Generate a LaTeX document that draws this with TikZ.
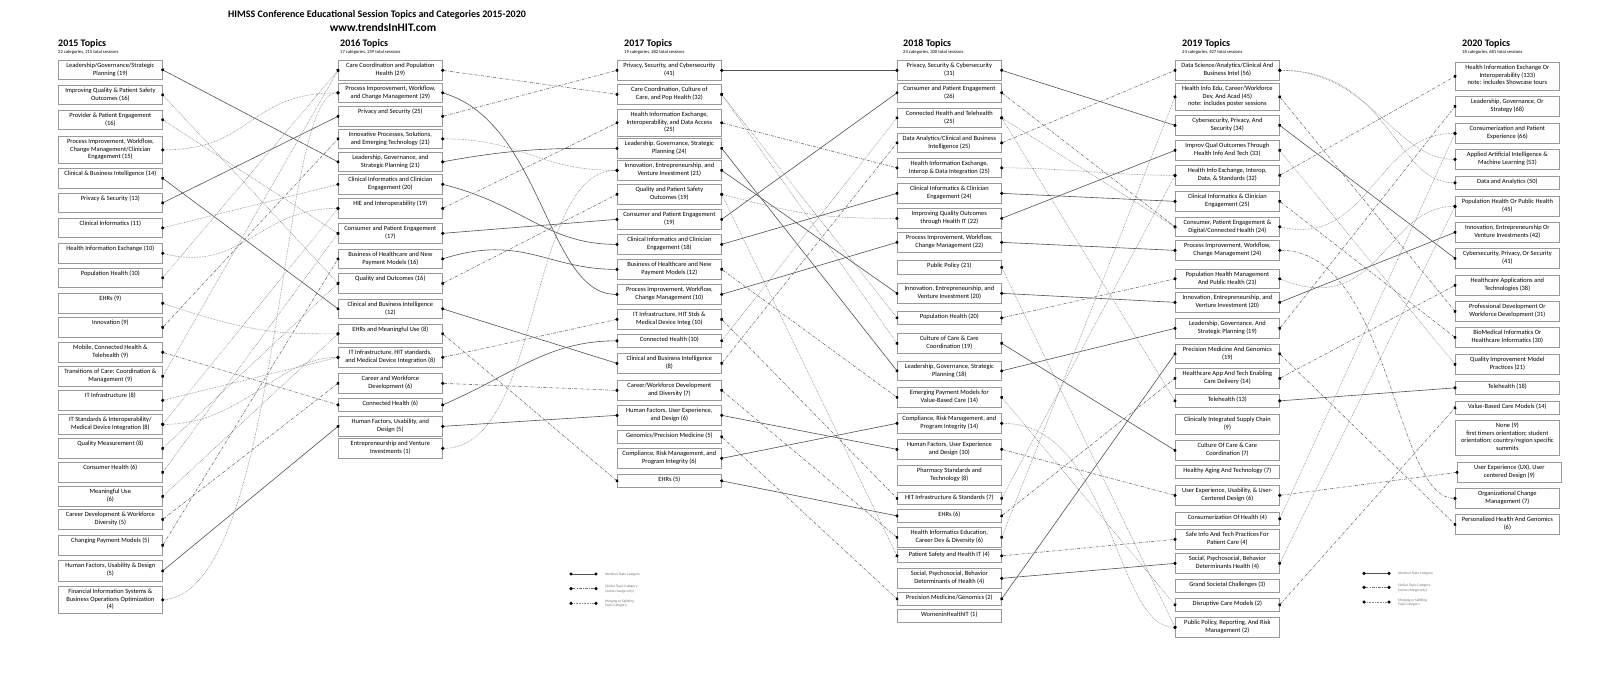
\documentclass[tikz,border=0pt]{standalone}
\usepackage{fontspec}
\setmainfont{Carlito}
\usetikzlibrary{arrows.meta}
\newcommand{\bfnt}{\fontsize{6.45}{7.6}\selectfont}
\newcommand{\tx}[2]{\vbox to \dimexpr#1pt-4pt\relax{\hbox{\begin{tabular}[t]{@{}c@{}}#2\end{tabular}}\vss}}
\begin{document}
\begin{tikzpicture}[x=1pt,y=-1pt,
 tb/.style={draw=black!40, line width=0.7pt, fill=white, anchor=north west, minimum width=104pt, inner xsep=1pt, inner ysep=2pt, font=\bfnt, text=black},
 conn/.style={line width=0.6pt, {Circle[length=3.2pt,color=black]}-{Circle[length=3.2pt,color=black]}, shorten <=-1.6pt, shorten >=-1.6pt},
 idl/.style={conn, draw=black!68},
 siml/.style={conn, draw=black!55, dash pattern=on 3pt off 1.3pt on 0.6pt off 1.3pt},
 mrgl/.style={conn, draw=black!45, dash pattern=on 0.7pt off 0.9pt},
 hdrs/.style={anchor=west, font=\fontsize{10}{11}\selectfont\bfseries, inner sep=0pt},
 subs/.style={anchor=west, font=\fontsize{4.6}{5}\selectfont, inner sep=0pt},
 lgt/.style={anchor=west, align=left, font=\fontsize{3.6}{4.2}\selectfont, text=black!55, inner sep=0pt},
 ttl/.style={font=\fontsize{10}{11}\selectfont\bfseries, inner sep=0pt}
]
\fill[white] (0,0) rectangle (1600,674);
\useasboundingbox (0,0) rectangle (1600,674);

% titles
\node[ttl] (title) at (377,15) {HIMSS Conference Educational Session Topics and Categories 2015-2020};
\node[ttl, font=\fontsize{11.5}{12}\selectfont\bfseries] (url) at (383,27.5) {www.trendsInHIT.com};

% headers
\node[hdrs] (h15) at (58,44) {2015 Topics};
\node[subs] (s15) at (58,52.5) {22 categories, 215 total sessions};
\node[hdrs] (h16) at (340,44) {2016 Topics};
\node[subs] (s16) at (340,52.5) {17 categories, 259 total sessions};
\node[hdrs] (h17) at (624,44) {2017 Topics};
\node[subs] (s17) at (624,52.5) {19 categories, 282 total sessions};
\node[hdrs] (h18) at (903,44) {2018 Topics};
\node[subs] (s18) at (903,52.5) {24 categories, 300 total sessions};
\node[hdrs] (h19) at (1182,44) {2019 Topics};
\node[subs] (s19) at (1182,52.5) {24 categories, 427 total sessions};
\node[hdrs] (h20) at (1462,44) {2020 Topics};
\node[subs] (s20) at (1462,52.5) {18 categories, 681 total sessions};

% 2015
\node[tb] (a1) at (58,60) {\tx{19}{Leadership/Governance/Strategic\\Planning (19)}};
\node[tb] (a2) at (58,85) {\tx{19}{Improving Quality \& Patient Safety\\Outcomes (16)}};
\node[tb] (a3) at (58,110) {\tx{19}{Provider \& Patient Engagement\\(16)}};
\node[tb] (a4) at (58,136) {\tx{27}{Process Improvement, Workflow,\\Change Management/Clinician\\Engagement (15)}};
\node[tb] (a5) at (58,168) {\tx{20}{Clinical \& Business Intelligence (14)}};
\node[tb] (a6) at (58,193) {\tx{19}{Privacy \& Security (13)}};
\node[tb] (a7) at (58,218) {\tx{19}{Clinical Informatics (11)}};
\node[tb] (a8) at (58,243) {\tx{20}{Health Information Exchange (10)}};
\node[tb] (a9) at (58,268) {\tx{19}{Population Health (10)}};
\node[tb] (a10) at (58,293) {\tx{20}{EHRs (9)}};
\node[tb] (a11) at (58,317) {\tx{20}{Innovation (9)}};
\node[tb] (a12) at (58,342) {\tx{20}{Mobile, Connected Health \&\\Telehealth (9)}};
\node[tb] (a13) at (58,366) {\tx{20}{Transitions of Care: Coordination \&\\Management (9)}};
\node[tb] (a14) at (58,390) {\tx{20}{IT Infrastructure (8)}};
\node[tb] (a15) at (58,414) {\tx{20}{IT Standards \& Interoperability/\\Medical Device Integration (8)}};
\node[tb] (a16) at (58,438) {\tx{20}{Quality Measurement (8)}};
\node[tb] (a17) at (58,462) {\tx{20}{Consumer Health (6)}};
\node[tb] (a18) at (58,486) {\tx{20}{Meaningful Use\\(6)}};
\node[tb] (a19) at (58,509) {\tx{20}{Career Development \& Workforce\\Diversity (5)}};
\node[tb] (a20) at (58,535) {\tx{20}{Changing Payment Models (5)}};
\node[tb] (a21) at (58,560) {\tx{21}{Human Factors, Usability \& Design\\(5)}};
\node[tb] (a22) at (58,586) {\tx{27}{Financial Information Systems \&\\Business Operations Optimization\\(4)}};

% 2016
\node[tb] (b1) at (338,60) {\tx{20}{Care Coordination and Population\\Health (29)}};
\node[tb] (b2) at (338,83) {\tx{19}{Process Imporovement, Workflow,\\and Change Management (29)}};
\node[tb] (b3) at (338,106) {\tx{20}{Privacy and Security (25)}};
\node[tb] (b4) at (338,129) {\tx{19}{Innovative Processes, Solutions,\\and Emerging Technology (21)}};
\node[tb] (b5) at (338,152) {\tx{19}{Leadership, Governance, and\\Strategic Planning (21)}};
\node[tb] (b6) at (338,174) {\tx{20}{Clinical Informatics and Clinician\\Engagement (20)}};
\node[tb] (b7) at (338,198) {\tx{20}{HIE and Interoperability (19)}};
\node[tb] (b8) at (338,223) {\tx{20}{Consumer and Patient Engagement\\(17)}};
\node[tb] (b9) at (338,249) {\tx{19}{Business of Healthcare and New\\Payment Models (16)}};
\node[tb] (b10) at (338,273) {\tx{20}{Quality and Outcomes (16)}};
\node[tb] (b11) at (338,299) {\tx{19}{Clinical and Business Intelligence\\(12)}};
\node[tb] (b12) at (338,324) {\tx{19}{EHRs and Meaningful Use (8)}};
\node[tb] (b13) at (338,347) {\tx{20}{IT Infrastructure, HIT standards,\\and Medical Device Integration (8)}};
\node[tb] (b14) at (338,373) {\tx{20}{Career and Workforce\\Development (6)}};
\node[tb] (b15) at (338,398) {\tx{13}{Connected Health (6)}};
\node[tb] (b16) at (338,416) {\tx{20}{Human Factors, Usability, and\\Design (5)}};
\node[tb] (b17) at (338,438) {\tx{20}{Entrepreneurship and Venture\\Investments (1)}};

% 2017
\node[tb] (c1) at (617,60) {\tx{20}{Privacy, Security, and Cybersecurity\\(41)}};
\node[tb] (c2) at (617,84) {\tx{20}{Care Coordination, Culture of\\Care, and Pop Health (32)}};
\node[tb] (c3) at (617,109) {\tx{27}{Health Information Exchange,\\Interoperability, and Data Access\\(25)}};
\node[tb] (c4) at (617,138) {\tx{20}{Leadership, Governance, Strategic\\Planning (24)}};
\node[tb] (c5) at (617,160) {\tx{20}{Innovation, Entrepreneurship, and\\Venture Investment (21)}};
\node[tb] (c6) at (617,184) {\tx{20}{Quality and Patient Safety\\Outcomes (19)}};
\node[tb] (c7) at (617,209) {\tx{20}{Consumer and Patient Engagement\\(19)}};
\node[tb] (c8) at (617,234) {\tx{20}{Clinical Informatics and Clinician\\Engagement (18)}};
\node[tb] (c9) at (617,259) {\tx{20}{Business of Healthcare and New\\Payment Models (12)}};
\node[tb] (c10) at (617,284) {\tx{20}{Process Improvement, Workflow,\\Change Management (10)}};
\node[tb] (c11) at (617,309) {\tx{20}{IT Infrastructure, HIT Stds \&\\Medical Device Integ (10)}};
\node[tb] (c12) at (617,334) {\tx{13}{Connected Health (10)}};
\node[tb] (c13) at (617,353) {\tx{20}{Clinical and Business Intelligence\\(8)}};
\node[tb] (c14) at (617,380) {\tx{20}{Career/Workforce Development\\and Diversity (7)}};
\node[tb] (c15) at (617,405) {\tx{20}{Human Factors, User Experience,\\and Design (6)}};
\node[tb] (c16) at (617,430) {\tx{13}{Genomics/Precision Medicine (5)}};
\node[tb] (c17) at (617,448) {\tx{20}{Compliance, Risk Management, and\\Program Integrity (6)}};
\node[tb] (c18) at (617,474) {\tx{13}{EHRs (5)}};

% 2018
\node[tb] (d1) at (897,60) {\tx{20}{Privacy, Security \& Cybersecurity\\(31)}};
\node[tb] (d2) at (897,83) {\tx{19}{Consumer and Patient Engagement\\(26)}};
\node[tb] (d3) at (897,108) {\tx{19}{Connected Health and Telehealth\\(25)}};
\node[tb] (d4) at (897,133) {\tx{19}{Data Analytics/Clinical and Business\\Intelligence (25)}};
\node[tb] (d5) at (897,158) {\tx{19}{Health Information Exchange,\\Interop \& Data Integration (25)}};
\node[tb] (d6) at (897,183) {\tx{20}{Clinical Informatics \& Clinician\\Engagement (24)}};
\node[tb] (d7) at (897,208) {\tx{20}{Improving Quality Outcomes\\through Health IT (22)}};
\node[tb] (d8) at (897,232) {\tx{20}{Process Improvement, Workflow,\\Change Management (22)}};
\node[tb] (d9) at (897,260) {\tx{14}{Public Policy (21)}};
\node[tb] (d10) at (897,283) {\tx{20}{Innovation, Entrepreneurship, and\\Venture Investment (20)}};
\node[tb] (d11) at (897,311) {\tx{13}{Population Health (20)}};
\node[tb] (d12) at (897,333) {\tx{20}{Culture of Care \& Care\\Coordination (19)}};
\node[tb] (d13) at (897,361) {\tx{19}{Leadership, Governance, Strategic\\Planning (18)}};
\node[tb] (d14) at (897,387) {\tx{20}{Emerging Payment Models for\\Value-Based Care (14)}};
\node[tb] (d15) at (897,413) {\tx{20}{Compliance, Risk Management, and\\Program Integrity (14)}};
\node[tb] (d16) at (897,439) {\tx{20}{Human Factors, User Experience\\and Design (10)}};
\node[tb] (d17) at (897,465) {\tx{20}{Pharmacy Standards and\\Technology (8)}};
\node[tb] (d18) at (897,492) {\tx{12}{HIT Infrastructure \& Standards (7)}};
\node[tb] (d19) at (897,509) {\tx{13}{EHRs (6)}};
\node[tb] (d20) at (897,527) {\tx{20}{Health Informatics Education,\\Career Dev \& Diversity (6)}};
\node[tb] (d21) at (897,549) {\tx{13}{Patient Safety and Health IT (4)}};
\node[tb] (d22) at (897,568) {\tx{20}{Social, Psychosocial, Behavior\\Determinants of Health (4)}};
\node[tb] (d23) at (897,592) {\tx{13}{Precision Medicine/Genomics (2)}};
\node[tb] (d24) at (897,609) {\tx{13}{WomeninHealthIT (1)}};

% 2019
\node[tb] (e1) at (1175,60) {\tx{20}{Data Science/Analytics/Clinical And\\Business Intel (56)}};
\node[tb] (e2) at (1175,83) {\tx{27}{Health Info Edu, Career/Workforce\\Dev, And Acad (45)\\note: includes poster sessions}};
\node[tb] (e3) at (1175,115) {\tx{20}{Cybersecurity, Privacy, And\\Security (34)}};
\node[tb] (e4) at (1175,140) {\tx{20}{Improv Qual Outcomes Through\\Health Info And Tech (33)}};
\node[tb] (e5) at (1175,165) {\tx{20}{Health Info Exchange, Interop,\\Data, \& Standards (32)}};
\node[tb] (e6) at (1175,191) {\tx{20}{Clinical Informatics \& Clinician\\Engagement (25)}};
\node[tb] (e7) at (1175,217) {\tx{19}{Consumer, Patient Engagement \&\\Digital/Connected Health (24)}};
\node[tb] (e8) at (1175,240) {\tx{20}{Process Improvement, Workflow,\\Change Management (24)}};
\node[tb] (e9) at (1175,269) {\tx{19}{Population Health Management\\And Public Health (21)}};
\node[tb] (e10) at (1175,292) {\tx{20}{Innovation, Entrepreneurship, and\\Venture Investment (20)}};
\node[tb] (e11) at (1175,318) {\tx{20}{Leadership, Governance, And\\Strategic Planning (19)}};
\node[tb] (e12) at (1175,344) {\tx{19}{Precision Medicine And Genomics\\(19)}};
\node[tb] (e13) at (1175,368) {\tx{20}{Healthcare App And Tech Enabling\\Care Delivery (14)}};
\node[tb] (e14) at (1175,394) {\tx{13}{Telehealth (13)}};
\node[tb] (e15) at (1175,414) {\tx{20}{Clinically Integrated Supply Chain\\(9)}};
\node[tb] (e16) at (1175,440) {\tx{20}{Culture Of Care \& Care\\Coordination (7)}};
\node[tb] (e17) at (1175,465) {\tx{13}{Healthy Aging And Technology (7)}};
\node[tb] (e18) at (1175,485) {\tx{20}{User Experience, Usability, \& User-\\Centered Design (6)}};
\node[tb] (e19) at (1175,512) {\tx{13}{Consumerization Of Health (4)}};
\node[tb] (e20) at (1175,529) {\tx{20}{Safe Info And Tech Practices For\\Patient Care (4)}};
\node[tb] (e21) at (1175,553) {\tx{20}{Social, Psychosocial, Behavior\\Determinants Health (4)}};
\node[tb] (e22) at (1175,579) {\tx{13}{Grand Societal Challenges (3)}};
\node[tb] (e23) at (1175,598) {\tx{13}{Disruptive Care Models (2)}};
\node[tb] (e24) at (1175,617) {\tx{20}{Public Policy, Reporting, And Risk\\Management (2)}};

% 2020
\node[tb] (f1) at (1455,62) {\tx{28}{Health Information Exchange Or\\Interoperability (133)\\note: includes Showcase tours}};
\node[tb] (f2) at (1455,96) {\tx{20}{Leadership, Governance, Or\\Strategy (68)}};
\node[tb] (f3) at (1455,123) {\tx{20}{Consumerization and Patient\\Experience (66)}};
\node[tb] (f4) at (1455,149) {\tx{20}{Applied Artificial Intelligence \&\\Machine Learning (53)}};
\node[tb] (f5) at (1455,176) {\tx{13}{Data and Analytics (50)}};
\node[tb] (f6) at (1455,196) {\tx{20}{Population Health Or Public Health\\(45)}};
\node[tb] (f7) at (1455,222) {\tx{20}{Innovation, Entrepreneurship Or\\Venture Investments (42)}};
\node[tb] (f8) at (1455,248) {\tx{20}{Cybersecurity, Privacy, Or Security\\(41)}};
\node[tb] (f9) at (1455,275) {\tx{20}{Healthcare Applications and\\Technologies (38)}};
\node[tb] (f10) at (1455,301) {\tx{20}{Professional Development Or\\Workforce Development (31)}};
\node[tb] (f11) at (1455,327) {\tx{20}{BioMedical Informatics Or\\Healthcare Informatics (30)}};
\node[tb] (f12) at (1455,354) {\tx{20}{Quality Improvement Model\\Practices (21)}};
\node[tb] (f13) at (1455,381) {\tx{13}{Telehealth (18)}};
\node[tb] (f14) at (1455,401) {\tx{13}{Value-Based Care Models (14)}};
\node[tb] (f15) at (1455,420) {\tx{35}{None (9)\\first timers orientation; student\\orientation; country/region specific\\summits}};
\node[tb] (f16) at (1457,462) {\tx{20}{User Experience (UX), User\\centered Design (9)}};
\node[tb] (f17) at (1455,488) {\tx{20}{Organizational Change\\Management (7)}};
\node[tb] (f18) at (1455,514) {\tx{20}{Personalized Health And Genomics\\(6)}};

% 2015 -> 2016
\draw[idl] (a1.east) -- (b5.west);
\draw[mrgl] (a2.east) -- (b10.west);
\draw[mrgl] (a3.east) -- (b8.west);
\draw[mrgl] (a4.east) .. controls +(90,0) and +(-90,0) .. (b2.west);
\draw[idl] (a5.east) -- (b11.west);
\draw[idl] (a6.east) -- (b3.west);
\draw[mrgl] (a7.east) -- (b6.west);
\draw[mrgl] (a8.east) .. controls +(80,20) and +(-80,0) .. (b7.west);
\draw[mrgl] (a9.east) -- (b1.west);
\draw[mrgl] (a10.east) .. controls +(90,30) and +(-60,0) .. (b12.west);
\draw[siml] (a11.east) -- (b4.west);
\draw[siml] (a12.east) -- (b15.west);
\draw[mrgl] (a13.east) -- (b1.west);
\draw[mrgl] (a14.east) -- (b13.west);
\draw[mrgl] (a15.east) .. controls +(80,0) and +(-60,0) .. (b13.west);
\draw[mrgl] (a15.east) -- (b7.west);
\draw[mrgl] (a16.east) -- (b10.west);
\draw[mrgl] (a17.east) -- (b8.west);
\draw[mrgl] (a18.east) -- (b12.west);
\draw[siml] (a19.east) -- (b14.west);
\draw[siml] (a20.east) -- (b9.west);
\draw[idl] (a21.east) -- (b16.west);
\draw[mrgl] (a22.east) .. controls +(120,-10) and +(-60,0) .. (b2.west);

% 2016 -> 2017
\draw[siml] (b1.east) -- (c2.west);
\draw[idl] (b2.east) .. controls +(100,30) and +(-70,0) .. (c10.west);
\draw[siml] (b3.east) -- (c1.west);
\draw[mrgl] (b4.east) .. controls +(80,0) and +(-80,0) .. (c5.west);
\draw[idl] (b5.east) .. controls +(80,-15) and +(-50,0) .. (c4.west);
\draw[idl] (b6.east) .. controls +(80,20) and +(-70,0) .. (c8.west);
\draw[siml] (b7.east) -- (c3.west);
\draw[idl] (b8.east) -- (c7.west);
\draw[idl] (b9.east) .. controls +(80,-25) and +(-70,0) .. (c9.west);
\draw[siml] (b10.east) -- (c6.west);
\draw[idl] (b11.east) -- (c13.west);
\draw[siml] (b12.east) -- (c18.west);
\draw[siml] (b13.east) -- (c11.west);
\draw[siml] (b14.east) -- (c14.west);
\draw[idl] (b15.east) .. controls +(70,-30) and +(-70,0) .. (c12.west);
\draw[idl] (b16.east) -- (c15.west);
\draw[mrgl] (b17.east) .. controls +(100,0) and +(-90,0) .. (c5.west);

% 2017 -> 2018
\draw[idl] (c1.east) -- (d1.west);
\draw[mrgl] (c2.east) -- (d12.west);
\draw[mrgl] (c2.east) -- (d11.west);
\draw[siml] (c3.east) -- (d5.west);
\draw[idl] (c4.east) -- (d13.west);
\draw[idl] (c5.east) -- (d10.west);
\draw[mrgl] (c6.east) .. controls +(80,20) and +(-80,0) .. (d7.west);
\draw[mrgl] (c6.east) -- (d21.west);
\draw[idl] (c7.east) -- (d2.west);
\draw[idl] (c8.east) -- (d6.west);
\draw[siml] (c9.east) -- (d14.west);
\draw[idl] (c10.east) -- (d8.west);
\draw[siml] (c11.east) -- (d18.west);
\draw[mrgl] (c12.east) -- (d3.west);
\draw[siml] (c13.east) -- (d4.west);
\draw[siml] (c14.east) -- (d20.west);
\draw[idl] (c15.east) -- (d16.west);
\draw[siml] (c16.east) -- (d23.west);
\draw[idl] (c17.east) -- (d15.west);
\draw[idl] (c18.east) -- (d19.west);

% 2018 -> 2019
\draw[idl] (d1.east) -- (e3.west);
\draw[siml] (d2.east) -- (e7.west);
\draw[mrgl] (d3.east) -- (e14.west);
\draw[mrgl] (d3.east) -- (e7.west);
\draw[siml] (d4.east) -- (e1.west);
\draw[mrgl] (d5.east) .. controls +(60,0) and +(-60,0) .. (e5.west);
\draw[idl] (d6.east) -- (e6.west);
\draw[idl] (d7.east) -- (e4.west);
\draw[idl] (d8.east) -- (e8.west);
\draw[mrgl] (d9.east) -- (e24.west);
\draw[idl] (d10.east) -- (e10.west);
\draw[siml] (d11.east) -- (e9.west);
\draw[idl] (d12.east) -- (e16.west);
\draw[idl] (d13.east) -- (e11.west);
\draw[mrgl] (d14.east) -- (e23.west);
\draw[mrgl] (d15.east) .. controls +(110,0) and +(-60,0) .. (e24.west);
\draw[siml] (d16.east) -- (e18.west);
\draw[mrgl] (d18.east) -- (e5.west);
\draw[siml] (d19.east) -- (e13.west);
\draw[mrgl] (d20.east) -- (e2.west);
\draw[siml] (d21.east) -- (e20.west);
\draw[idl] (d22.east) -- (e21.west);
\draw[idl] (d23.east) -- (e12.west);

% 2019 -> 2020
\draw[mrgl] (e1.east) .. controls +(110,0) and +(-60,0) .. (f5.west);
\draw[mrgl] (e1.east) .. controls +(90,0) and +(-60,0) .. (f4.west);
\draw[siml] (e2.east) -- (f10.west);
\draw[idl] (e3.east) -- (f8.west);
\draw[mrgl] (e4.east) -- (f12.west);
\draw[siml] (e5.east) -- (f1.west);
\draw[siml] (e6.east) -- (f11.west);
\draw[mrgl] (e7.east) .. controls +(90,20) and +(-80,0) .. (f3.west);
\draw[siml] (e8.east) .. controls +(110,0) and +(-60,0) .. (f17.west);
\draw[mrgl] (e9.east) .. controls +(100,40) and +(-70,0) .. (f6.west);
\draw[idl] (e10.east) -- (f7.west);
\draw[siml] (e11.east) -- (f2.west);
\draw[siml] (e12.east) -- (f18.west);
\draw[siml] (e13.east) -- (f9.west);
\draw[idl] (e14.east) -- (f13.west);
\draw[siml] (e18.east) -- (f16.west);
\draw[mrgl] (e19.east) -- (f3.west);
\draw[mrgl] (e21.east) -- (f6.west);
\draw[siml] (e23.east) -- (f14.west);

% legends
\coordinate (la1) at (571,574); \coordinate (lb1) at (596,574);
\coordinate (la2) at (571,588.7); \coordinate (lb2) at (596,588.7);
\coordinate (la3) at (571,603.3); \coordinate (lb3) at (596,603.3);
\draw[idl] (la1) -- (lb1);
\draw[siml] (la2) -- (lb2);
\draw[mrgl] (la3) -- (lb3);
\node[lgt] (lt1) at (605,574.5) {Identical Topic Category};
\node[lgt] (lt2) at (605,589) {Similar Topic Category\\(name change only)};
\node[lgt] (lt3) at (605,603.5) {Merging or Splitting\\Topic Category};
\coordinate (lc1) at (1364,573.3); \coordinate (ld1) at (1389,573.3);
\coordinate (lc2) at (1364,587.3); \coordinate (ld2) at (1389,587.3);
\coordinate (lc3) at (1364,602); \coordinate (ld3) at (1389,602);
\draw[idl] (lc1) -- (ld1);
\draw[siml] (lc2) -- (ld2);
\draw[mrgl] (lc3) -- (ld3);
\node[lgt] (lu1) at (1398,574) {Identical Topic Category};
\node[lgt] (lu2) at (1398,588) {Similar Topic Category\\(name change only)};
\node[lgt] (lu3) at (1398,602.5) {Merging or Splitting\\Topic Category};
\end{tikzpicture}
\end{document}
